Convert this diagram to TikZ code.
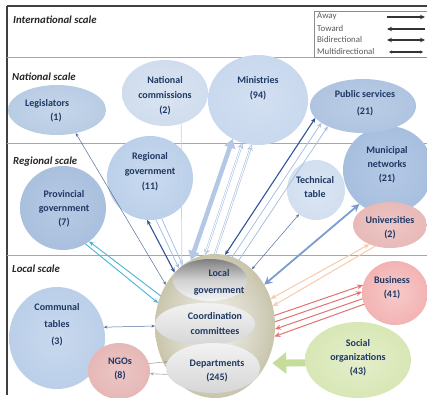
\documentclass[tikz,border=0pt]{standalone}
\usepackage{fontspec}
\setmainfont{Carlito}
\usetikzlibrary{arrows.meta,shapes.geometric}
\definecolor{navy}{HTML}{1F3864}
\definecolor{sepc}{HTML}{8EAADB}
\definecolor{cLeg}{HTML}{B8CCE4}
\definecolor{cNat}{HTML}{D0DDEE}
\definecolor{cMin}{HTML}{C8D8EE}
\definecolor{cPub}{HTML}{AFC4E1}
\definecolor{cMun}{HTML}{A7BFDF}
\definecolor{cTec}{HTML}{D2DFF0}
\definecolor{cReg}{HTML}{BCD0EA}
\definecolor{cPro}{HTML}{A9C0DE}
\definecolor{cCom}{HTML}{BBCFE9}
\definecolor{cUni}{HTML}{E8B9B8}
\definecolor{cNgo}{HTML}{E6B8B7}
\definecolor{cBus}{HTML}{F3B3B3}
\definecolor{cSoc}{HTML}{D8E7B5}
\definecolor{cDark}{HTML}{2E5597}
\definecolor{cLight}{HTML}{A9C1E3}
\definecolor{cThin}{HTML}{5470A0}
\definecolor{cCyan}{HTML}{4BB5D5}
\definecolor{cRed}{HTML}{E47272}
\definecolor{cPeach}{HTML}{F8CBAD}
\definecolor{cFat}{HTML}{B4C8E6}
\definecolor{cGreen}{HTML}{C5DC9A}
\definecolor{cMunA}{HTML}{7A9CCE}
\definecolor{cGrayA}{HTML}{A6A6A6}
\definecolor{cSphIn}{HTML}{F4F4F2}
\definecolor{cSphOut}{HTML}{C9C5AC}
\begin{document}
\begin{tikzpicture}[x=1pt,y=-1pt,
  blob/.style={ellipse, inner sep=0pt, outer sep=0pt, shading=radial},
  lbl/.style={font=\fontsize{10}{14}\selectfont\bfseries, text=navy, align=center, inner sep=0pt},
  scl/.style={font=\fontsize{10.8}{12}\selectfont\bfseries\itshape, anchor=west, text=black!85, inner sep=0pt},
  leg/.style={font=\fontsize{8.8}{10}\selectfont, anchor=west, text=black!65, inner sep=0pt},
  sepline/.style={draw=sepc, line width=0.9pt},
  thinarr/.style={draw=cThin, line width=0.5pt, arrows={Stealth[length=3.5pt,width=3pt]-Stealth[length=3.5pt,width=3pt]}},
  darkarr/.style={draw=cDark, line width=1.1pt, >={Stealth[length=5pt,width=4pt]}},
  lightarr/.style={draw=cLight, line width=0.8pt, >={Stealth[length=5pt,width=4pt]}},
  dblarr/.style={draw=cLight, line width=0.6pt, double=white, double distance=0.9pt, >={Stealth[length=6pt,width=6pt,open]}},
  cyanarr/.style={draw=cCyan, line width=0.9pt, >={Stealth[length=5pt,width=4pt]}},
  redarr/.style={draw=cRed, line width=1pt, >={Stealth[length=6pt,width=5pt]}},
  peacharr/.style={draw=cPeach, line width=1pt, >={Stealth[length=6pt,width=5pt]}},
  grayarr/.style={draw=cGrayA, line width=0.6pt, >={Stealth[length=4pt,width=3pt]}},
  fatarr/.style={draw=cFat, line width=4.5pt, >={Triangle[length=9pt,width=11pt]}},
  munarr/.style={draw=cMunA, line width=1.8pt, >={Stealth[length=8pt,width=8pt]}},
  greenarr/.style={draw=cGreen, line width=7pt, -{Triangle[length=14pt,width=21pt]}},
  legarr/.style={draw=black!80, line width=1.1pt}
]
\useasboundingbox (0,0) rectangle (427,397);
\fill[white] (0,0) rectangle (427,397);

% frame and scale separators
\draw[black!75, line width=1.2pt] (7,6) -- (427,6);
\draw[black!75, line width=1.3pt] (7,6) -- (7,395);
\draw[sepline] (7,57) -- (314,57);
\draw[sepline] (7,143) -- (427,143);
\draw[sepline] (7,255) -- (427,255);

% scale labels
\node[scl] (sInt) at (13,20) {International scale};
\node[scl] (sNat) at (12,77) {National scale};
\node[scl] (sReg) at (13,162) {Regional scale};
\node[scl] (sLoc) at (12,269) {Local scale};

% actors
\node[blob, minimum width=98, minimum height=50, inner color=cLeg!80!white, outer color=cLeg] (leg) at (57,110) {};
\node[blob, minimum width=86, minimum height=66, inner color=cNat!80!white, outer color=cNat] (nat) at (165,93) {};
\node[blob, minimum width=100, minimum height=90, inner color=cMin!80!white, outer color=cMin] (min) at (258,100) {};
\node[blob, minimum width=90, minimum height=88, inner color=cMun!85!white, outer color=cMun] (mun) at (388,170) {};
\node[blob, minimum width=106, minimum height=54, inner color=cPub!85!white, outer color=cPub] (pub) at (363,106) {};
\node[blob, minimum width=58, minimum height=60, inner color=cTec!80!white, outer color=cTec] (tec) at (316,190) {};
\node[blob, minimum width=86, minimum height=84, inner color=cReg!80!white, outer color=cReg] (reg) at (150,178) {};
\node[blob, minimum width=86, minimum height=84, inner color=cPro!85!white, outer color=cPro] (pro) at (63,208) {};
\node[blob, minimum width=74, minimum height=46, inner color=cUni!80!white, outer color=cUni] (uni) at (390,225) {};
\node[blob, minimum width=96, minimum height=102, inner color=cCom!80!white, outer color=cCom] (com) at (57,338) {};
\node[blob, minimum width=62, minimum height=56, inner color=cNgo!80!white, outer color=cNgo] (ngo) at (119,371) {};
\node[blob, minimum width=66, minimum height=64, inner color=cBus!70!white, outer color=cBus] (bus) at (395,293) {};
\node[blob, minimum width=106, minimum height=76, inner color=cSoc!70!white, outer color=cSoc] (soc) at (358,360) {};

% central sphere
\node[blob, minimum width=120, minimum height=144, inner color=cSphIn, outer color=cSphOut] (sph) at (215,326) {};
\node[ellipse, inner sep=0pt, outer sep=0pt, minimum width=74, minimum height=42, top color=black!50, bottom color=black!4, middle color=black!18] (lg) at (210,280) {};
\node[ellipse, inner sep=0pt, outer sep=0pt, minimum width=100, minimum height=42, top color=black!5, bottom color=black!16] (cc) at (205,324) {};
\node[ellipse, inner sep=0pt, outer sep=0pt, minimum width=94, minimum height=50, top color=black!5, bottom color=black!16] (dep) at (213,368) {};

% connectors
\draw[thinarr] (leg.-51) -- (sph.140);
\draw[cyanarr,<-] (pro.-52) -- (sph.151);
\draw[cyanarr,->] (pro.-58) -- (sph.158);
\draw[thinarr] (com.13) -- (sph.180);
\draw[grayarr,->] (ngo.14) -- (dep.172);
\draw[grayarr,<-] (ngo.-5) -- (dep.188);
\draw[darkarr,<->] (reg.-94) -- (sph.127);
\draw[lightarr,->] (reg.-82) -- (sph.122);
\draw[lightarr,->] (reg.-74) -- (sph.118);
\draw[draw=cLight!70, line width=0.7pt] (nat.-62) -- (sph.119);
\draw[fatarr,<->] (min.-123) -- (sph.110);
\draw[dblarr,<->] (min.-110) -- (sph.98);
\draw[dblarr,->] (sph.90) -- (min.-98);
\draw[darkarr,<->] (pub.-166) -- (sph.82);
\draw[lightarr,->] (sph.76) -- (pub.-158);
\draw[lightarr,->] (sph.70) -- (pub.-150);
\draw[thinarr] (tec.-125) -- (sph.57);
\draw[munarr,<->] (mun.-130) -- (sph.40);
\draw[peacharr,<->] (uni.-137) -- (sph.26);
\draw[peacharr,->] (uni.-125) -- (sph.19);
\draw[redarr,->] (sph.10) -- (bus.166);
\draw[redarr,->] (sph.4) -- (bus.178);
\draw[redarr,<-] (sph.-3) -- (bus.190);
\draw[redarr,<-] (sph.-10) -- (bus.200);
\draw[greenarr, shorten >=6pt] (soc.183) -- (sph.-36);

% labels
\node[lbl, anchor=west] (legA) at (25,104) {Legislators};
\node[lbl] (legB) at (56,118) {(1)};
\node[lbl, font=\fontsize{10}{15}\selectfont\bfseries] (natT) at (165,96) {National\\commissions\\(2)};
\node[lbl, font=\fontsize{10}{15}\selectfont\bfseries] (minT) at (258,88) {Ministries\\(94)};
\node[lbl, font=\fontsize{10}{17}\selectfont\bfseries] (pubT) at (365,103) {Public services\\(21)};
\node[lbl] (munT) at (387,165) {Municipal\\networks\\(21)};
\node[lbl] (tecT) at (315,187) {Technical\\table};
\node[lbl, font=\fontsize{10}{15}\selectfont\bfseries] (regT) at (150,172) {Regional\\government\\(11)};
\node[lbl] (proT) at (64,209) {Provincial\\government\\(7)};
\node[lbl] (uniT) at (390,228) {Universities\\(2)};
\node[lbl, font=\fontsize{10}{17}\selectfont\bfseries] (comT) at (57,325) {Communal\\tables\\(3)};
\node[lbl] (ngoT) at (120,369) {NGOs\\(8)};
\node[lbl] (busT) at (392,288) {Business\\(41)};
\node[lbl] (socT) at (358,358) {Social\\organizations\\(43)};
\node[lbl, font=\fontsize{10}{17}\selectfont\bfseries] (lgT) at (219,282) {Local\\government};
\node[lbl, font=\fontsize{10}{15}\selectfont\bfseries] (ccT) at (215,324) {Coordination\\committees};
\node[lbl] (depT) at (217,371) {Departments\\(245)};

% legend
\draw[black!45, line width=0.6pt, fill=white] (314,11) rectangle (427,57);
\node[leg] (lAway) at (317,16) {Away};
\node[leg] (lToward) at (317,28) {Toward};
\node[leg] (lBi) at (317,39.5) {Bidirectional};
\node[leg] (lMulti) at (317,51) {Multidirectional};
\coordinate (a1) at (387,17); \coordinate (b1) at (425,17);
\coordinate (a2) at (387,29); \coordinate (b2) at (425,29);
\coordinate (a3) at (387,40); \coordinate (b3) at (425,40);
\coordinate (a4) at (389,52); \coordinate (b4) at (423,52);
\draw[legarr, -{Stealth[length=5pt,width=4.5pt]}] (a1) -- (b1);
\draw[legarr, {Stealth[length=5pt,width=4.5pt]}-] (a2) -- (b2);
\draw[legarr, {Stealth[length=5pt,width=4.5pt]}-{Stealth[length=5pt,width=4.5pt]}] (a3) -- (b3);
\draw[legarr, {Stealth[length=3pt,width=3pt]}-{Stealth[length=3pt,width=3pt]}] (a4) -- (b4);
\end{tikzpicture}
\end{document}
